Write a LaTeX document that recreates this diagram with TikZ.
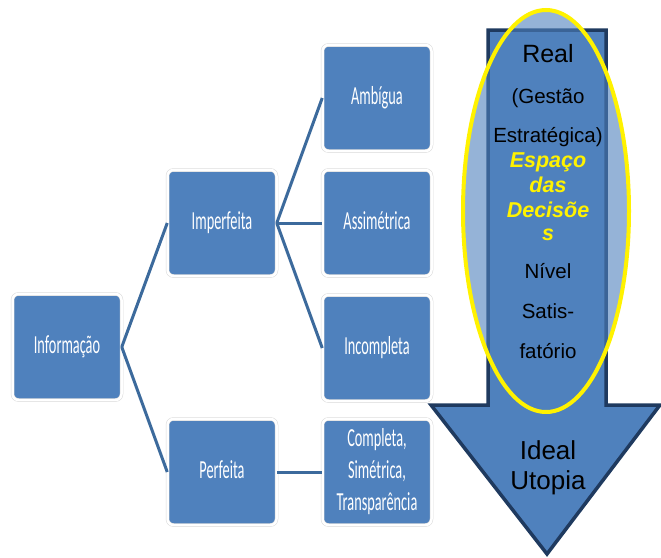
\documentclass[tikz,border=0pt]{standalone}
\usepackage{graphicx}
\usepackage{fontspec}
\setmainfont{Liberation Sans}
\newfontfamily\boxfont{Carlito}
\definecolor{boxblue}{HTML}{4F81BD}
\definecolor{linkblue}{HTML}{3C6A9C}
\definecolor{arrowedge}{HTML}{1F3A5F}
\newcommand{\boxtext}[1]{\scalebox{0.55}[1]{\boxfont\fontsize{26}{32}\selectfont\begin{tabular}{@{}c@{}}#1\end{tabular}}}
\begin{document}
\begin{tikzpicture}[x=1pt,y=-1pt]
\tikzstyle{box}=[draw=black!15, double=white, double distance=2.5pt, line width=0.5pt, fill=boxblue, rounded corners=6pt, minimum width=109pt, minimum height=106pt, inner sep=0pt, text=white]
\tikzstyle{link}=[draw=linkblue, line width=3pt]
\tikzstyle{txt}=[anchor=base, inner sep=0pt, font=\fontsize{20.5}{24}\selectfont]
\tikzstyle{yel}=[anchor=base, inner sep=0pt, text=yellow, font=\bfseries\itshape\fontsize{21.5}{24}\selectfont]
\useasboundingbox (0,0) rectangle (661,557);
\node[box] (info) at (67,347) {\boxtext{Informação}};
\node[box] (imp) at (222,223) {\boxtext{Imperfeita}};
\node[box] (perf) at (222,472) {\boxtext{Perfeita}};
\node[box] (amb) at (377,98) {\boxtext{Ambígua}};
\node[box] (ass) at (377,223) {\boxtext{Assimétrica}};
\node[box] (inc) at (377,348) {\boxtext{Incompleta}};
\node[box] (comp) at (377,472) {\boxtext{Completa,\\Simétrica,\\Transparência}};
\draw[link] (info.east) -- (imp.west);
\draw[link] (info.east) -- (perf.west);
\draw[link] (imp.east) -- (amb.west);
\draw[link] (imp.east) -- (ass.west);
\draw[link] (imp.east) -- (inc.west);
\draw[link] (perf.east) -- (comp.west);
\draw[draw=arrowedge, line width=3.5pt, fill=boxblue, line join=miter] (488,30) -- (606,30) -- (606,405) -- (660,405) -- (547,554) -- (431,405) -- (488,405) -- cycle;
\fill[boxblue, opacity=0.6] (546,211) ellipse (83pt and 201pt);
\draw[yellow, line width=4pt] (546,211) ellipse (83pt and 201pt);
\node[txt, font=\fontsize{25}{30}\selectfont] (real) at (548,62) {Real};
\node[txt] (gest) at (548,103) {(Gestão};
\node[txt] (estr) at (548,142) {Estratégica)};
\node[yel] (esp) at (548,167) {Espaço};
\node[yel] (das) at (548,192) {das};
\node[yel] (dec) at (548,217) {Decisõe};
\node[yel] (decs) at (548,240) {s};
\node[txt] (niv) at (548,278) {Nível};
\node[txt] (sat) at (548,318) {Satis-};
\node[txt] (fat) at (548,358) {fatório};
\node[txt, font=\fontsize{26}{30}\selectfont] (ideal) at (548,459) {Ideal};
\node[txt, font=\fontsize{26}{30}\selectfont] (utop) at (548,489) {Utopia};
\end{tikzpicture}
\end{document}
